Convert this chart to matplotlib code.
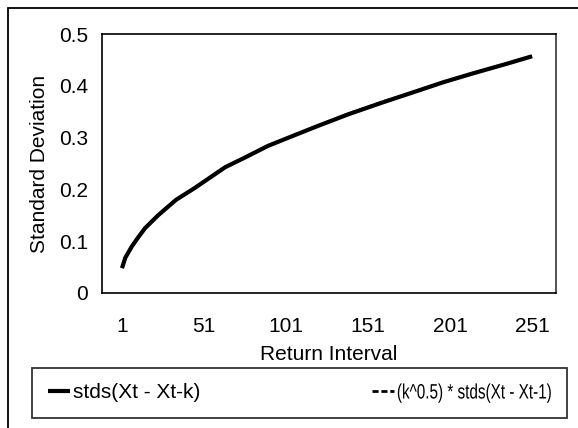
import matplotlib
matplotlib.use("Agg")
import matplotlib.pyplot as plt
from matplotlib.patches import Rectangle
from matplotlib.patheffects import AbstractPathEffect
from matplotlib.transforms import Affine2D

plt.rcParams['font.family'] = ['Liberation Sans', 'DejaVu Sans']

# values
k_vals = [1, 3, 7, 11, 15, 23, 34, 45, 64, 75, 90, 101, 120, 139, 160, 180, 197, 215, 235, 251]
std_k = [0.048, 0.068, 0.090, 0.108, 0.125, 0.150, 0.180, 0.202, 0.243, 0.260,
         0.284, 0.298, 0.322, 0.345, 0.368, 0.389, 0.407, 0.424, 0.442, 0.457]
scaled_std1 = [0.048, 0.068, 0.090, 0.108, 0.125, 0.150, 0.180, 0.202, 0.243, 0.260,
               0.284, 0.298, 0.322, 0.346, 0.369, 0.389, 0.407, 0.424, 0.442, 0.457]
x_ticks = [1, 51, 101, 151, 201, 251]
y_ticks = [0, 0.1, 0.2, 0.3, 0.4, 0.5]
y_tick_labels = ['0', '0.1', '0.2', '0.3', '0.4', '0.5']

fs = 15


class Stretch(AbstractPathEffect):
    # stretch glyphs about the text baseline (used to mimic condensed text)
    def __init__(self, sx, sy):
        super().__init__()
        self.sx = sx
        self.sy = sy

    def draw_path(self, renderer, gc, tpath, affine, rgbFace=None):
        renderer.draw_path(gc, tpath, Affine2D().scale(self.sx, self.sy) + affine, rgbFace)


fig = plt.figure(figsize=(5.78, 4.28), dpi=100)
ax = fig.add_axes([102 / 578, 1 - 293 / 428, 454 / 578, 259 / 428])

line1, = ax.plot(k_vals, std_k, color='black', linewidth=3.0, solid_capstyle='butt',
                 label='stds(Xt - Xt-k)')
line2, = ax.plot(k_vals, scaled_std1, color='black', linewidth=2.0, linestyle=(0, (2.2, 1.0)),
                 label='(k^0.5) * stds(Xt - Xt-1)')

ax.set_xlim(-11.2, 265.6)
ax.set_ylim(0, 0.5)
ax.set_xticks(x_ticks)
ax.set_xticklabels([str(t) for t in x_ticks])
ax.set_yticks(y_ticks)
ax.set_yticklabels(y_tick_labels)
ax.tick_params(axis='both', length=0, labelsize=fs)
ax.tick_params(axis='y', pad=10)
ax.tick_params(axis='x', pad=17)
for s in ax.spines.values():
    s.set_linewidth(1.2)
    s.set_color('black')
ax.spines['right'].set_color('#333333')

ax.set_xlabel('Return Interval', fontsize=fs, labelpad=7)
ax.set_ylabel('Standard Deviation', fontsize=fs, labelpad=7)

# outer chart frame (clipped at right and bottom like the original)
fig.patches.append(Rectangle((8 / 578, -0.1), 1.2, 1 - 8 / 428 + 0.1, transform=fig.transFigure,
                             fill=False, edgecolor='black', linewidth=1.3))

leg = fig.legend(handles=[line1, line2], loc='center left', ncol=2,
                 bbox_to_anchor=(32 / 578, 1 - 393 / 428), fontsize=fs,
                 frameon=True, fancybox=False, edgecolor='black',
                 handlelength=1.05, handletextpad=0.15, columnspacing=8.25,
                 borderpad=0.75, borderaxespad=0)
leg.get_frame().set_linewidth(1.3)
# the second entry is condensed in the original: small size, stretched upward
t2 = leg.get_texts()[1]
t2.set_fontsize(11)
t2.set_path_effects([Stretch(1.0, fs / 11)])

fig.savefig('out.png', dpi=100)
